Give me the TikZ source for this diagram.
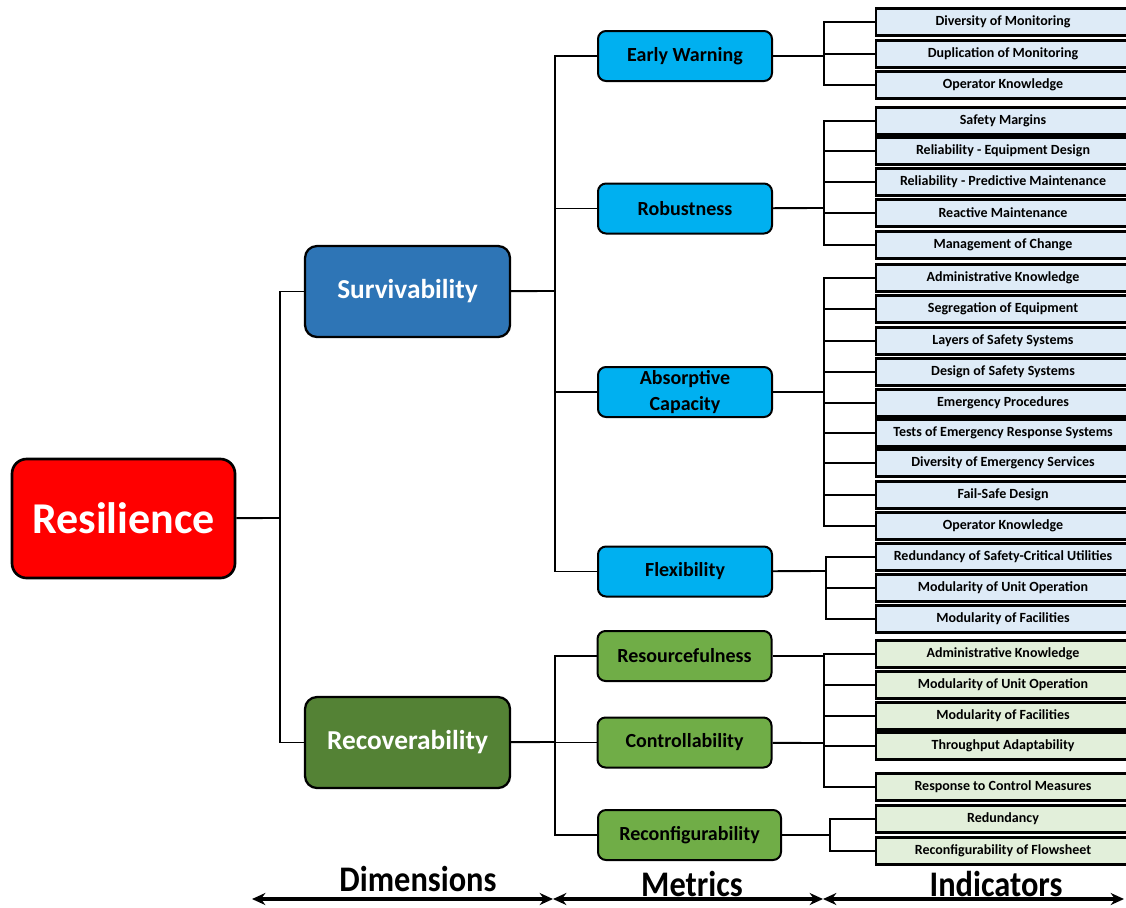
\documentclass[tikz,border=0pt]{standalone}
\usepackage{fontspec}
\setmainfont{Carlito}
\newfontfamily\condfont[FakeStretch=0.9]{Carlito}
\usetikzlibrary{arrows.meta}

\definecolor{resred}{HTML}{FF0000}
\definecolor{surblue}{HTML}{2E75B6}
\definecolor{recgreen}{HTML}{548235}
\definecolor{metblue}{HTML}{00B0F0}
\definecolor{metgreen}{HTML}{70AD47}
\definecolor{indblue}{HTML}{DEEBF7}
\definecolor{indgreen}{HTML}{E2EFDA}

\begin{document}
\begin{tikzpicture}[x=0.75pt,y=-0.75pt,line width=1.4pt,
	dimbox/.style={draw,line width=1.7pt,rounded corners=9pt,minimum width=153.75pt,minimum height=68.25pt,text=white,font=\bfseries\fontsize{20.5}{24}\selectfont},
	metbox/.style={draw,line width=1.5pt,rounded corners=6pt,minimum width=130.5pt,minimum height=37.5pt,inner sep=0pt,align=center,font=\bfseries\fontsize{15}{19}\selectfont},
	indb/.style={draw,line width=1.9pt,fill=indblue,minimum width=190.5pt,minimum height=20.25pt,inner sep=0pt,font=\bfseries\fontsize{10.5}{12}\selectfont},
	indg/.style={indb,fill=indgreen},
	axislabel/.style={font=\condfont\bfseries\fontsize{27}{30}\selectfont}]
	\useasboundingbox (0,0) rectangle (1126,907);
	% dimensions
	\node[draw,line width=2pt,rounded corners=11pt,fill=resred,minimum width=167.25pt,minimum height=89.25pt,text=white,font=\bfseries\fontsize{33}{38}\selectfont] (res) at (123.5,518.5) {Resilience};
	\node[dimbox,fill=surblue] (sur) at (407.5,291.5) {Survivability};
	\node[dimbox,fill=recgreen] (rec) at (407.5,742.5) {Recoverability};
	\coordinate (rj) at (280,518);
	\draw (res) -- (rj);
	\draw (rj) |- (sur);
	\draw (rj) |- (rec);
	% metrics
	\node[metbox,fill=metblue] (ew) at (685,56) {Early Warning};
	\node[metbox,fill=metblue] (rob) at (685,208.5) {Robustness};
	\node[metbox,fill=metblue] (abs) at (685,392) {Absorptive\\Capacity};
	\node[metbox,fill=metblue] (flex) at (685,571.5) {Flexibility};
	\node[metbox,fill=metgreen] (resf) at (684.5,656) {Resourcefulness};
	\node[metbox,fill=metgreen] (ctrl) at (684.5,742.5) {Controllability};
	\node[metbox,fill=metgreen,minimum width=137.25pt] (recf) at (689.5,835) {Reconfigurability};
	\coordinate (sj) at (555,291);
	\coordinate (cj) at (555,742);
	\draw (sur) -- (sj);
	\foreach \m in {ew,rob,abs,flex} \draw (sj) |- (\m);
	\draw (rec) -- (cj);
	\foreach \m in {resf,ctrl,recf} \draw (cj) |- (\m);
	% indicators
	\foreach \y/\t [count=\i] in {22/Diversity of Monitoring,54/Duplication of Monitoring,85/Operator Knowledge}
		\node[indb] (ew\i) at (1003,\y) {\t};
	\foreach \y/\t [count=\i] in {121/Safety Margins,151/Reliability - Equipment Design,182/Reliability - Predictive Maintenance,213/Reactive Maintenance,245/Management of Change}
		\node[indb] (rob\i) at (1003,\y) {\t};
	\foreach \y/\t [count=\i] in {278/Administrative Knowledge,309/Segregation of Equipment,341/Layers of Safety Systems,372/Design of Safety Systems,403/Emergency Procedures,433/Tests of Emergency Response Systems,463/Diversity of Emergency Services,495/Fail-Safe Design,526/Operator Knowledge}
		\node[indb] (abs\i) at (1003,\y) {\t};
	\foreach \y/\t [count=\i] in {557/Redundancy of Safety-Critical Utilities,588/Modularity of Unit Operation,619/Modularity of Facilities}
		\node[indb] (flex\i) at (1003,\y) {\t};
	\foreach \y/\t [count=\i] in {654/Administrative Knowledge,685/Modularity of Unit Operation,716/Modularity of Facilities,746/Throughput Adaptability}
		\node[indg] (resf\i) at (1003,\y) {\t};
	\node[indg] (ctrl1) at (1003,787) {Response to Control Measures};
	\foreach \y/\t [count=\i] in {819/Redundancy,851/Reconfigurability of Flowsheet}
		\node[indg] (recf\i) at (1003,\y) {\t};
	\foreach \m/\x/\y/\n in {ew/824/56/3,rob/824/208/5,abs/824/392/9,flex/826/571/3,resf/824/656/4,ctrl/824/743/1,recf/830/835/2}{
		\coordinate (\m j) at (\x,\y);
		\draw (\m) -- (\m j);
		\foreach \i in {1,...,\n} \draw (\m j) |- (\m\i.west);
	}
	% axis
	\coordinate (a0) at (252,899);
	\coordinate (a1) at (553,899);
	\coordinate (a2) at (823,899);
	\coordinate (a3) at (1124,899);
	\foreach \p/\q in {a0/a1,a1/a2,a2/a3}
		\draw[{Stealth[length=10pt,width=9pt]}-{Stealth[length=10pt,width=9pt]},line width=2.4pt] (\p) -- (\q);
	\node[axislabel] (dimlab) at (418,879) {Dimensions};
	\node[axislabel] (metlab) at (692,884) {Metrics};
	\node[axislabel] (indlab) at (996,884) {Indicators};
\end{tikzpicture}
\end{document}
